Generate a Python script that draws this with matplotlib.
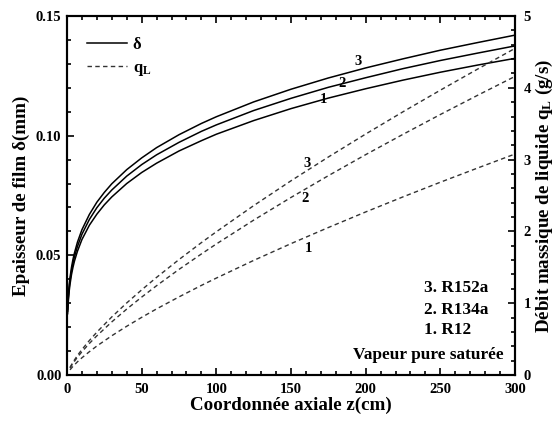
import matplotlib
matplotlib.use("Agg")
import matplotlib.pyplot as plt
from matplotlib.lines import Line2D
from matplotlib.ticker import MultipleLocator

plt.rcParams['font.family'] = ['Liberation Serif', 'DejaVu Serif']
plt.rcParams['font.weight'] = 'bold'
plt.rcParams['mathtext.fontset'] = 'custom'
plt.rcParams['mathtext.rm'] = 'Liberation Serif:bold'
plt.rcParams['mathtext.it'] = 'Liberation Serif:bold'
plt.rcParams['mathtext.bf'] = 'Liberation Serif:bold'

# film thickness delta (mm) vs axial coordinate z (cm)
z_delta = [0.4, 0.5, 1, 1.5, 2, 3, 4, 5, 7, 10, 15, 20, 25, 30, 40, 50, 60, 75, 90, 100,
           125, 150, 175, 200, 225, 250, 275, 300]
delta_R152a = [0.0271, 0.0287, 0.0341, 0.0378, 0.0406, 0.0449, 0.0483, 0.0510, 0.0555, 0.0607,
               0.0671, 0.0722, 0.0763, 0.0799, 0.0858, 0.0907, 0.0950, 0.1004, 0.1051, 0.1079,
               0.1141, 0.1194, 0.1241, 0.1283, 0.1321, 0.1357, 0.1389, 0.1420]
delta_R134a = [0.0263, 0.0278, 0.0330, 0.0366, 0.0393, 0.0435, 0.0467, 0.0494, 0.0537, 0.0588,
               0.0650, 0.0699, 0.0739, 0.0773, 0.0831, 0.0879, 0.0920, 0.0972, 0.1018, 0.1045,
               0.1105, 0.1156, 0.1202, 0.1242, 0.1280, 0.1314, 0.1345, 0.1375]
delta_R12 = [0.0253, 0.0267, 0.0318, 0.0352, 0.0378, 0.0419, 0.0450, 0.0476, 0.0517, 0.0566,
             0.0626, 0.0672, 0.0711, 0.0744, 0.0800, 0.0846, 0.0885, 0.0936, 0.0979, 0.1006,
             0.1063, 0.1113, 0.1157, 0.1196, 0.1232, 0.1265, 0.1295, 0.1323]

# liquid mass flow q_L (g/s) vs z (cm)
z_q = [2, 4, 7, 10, 15, 20, 30, 40, 50, 60, 75, 90, 100, 125, 150, 175, 200, 225, 250, 275, 300]
q_R152a = [0.106, 0.178, 0.272, 0.355, 0.481, 0.597, 0.809, 1.004, 1.186, 1.360, 1.608, 1.844,
           1.995, 2.359, 2.705, 3.036, 3.356, 3.666, 3.967, 4.261, 4.549]
q_R134a = [0.097, 0.163, 0.248, 0.324, 0.440, 0.546, 0.740, 0.918, 1.085, 1.244, 1.471, 1.686,
           1.825, 2.157, 2.473, 2.776, 3.069, 3.352, 3.628, 3.896, 4.159]
q_R12 = [0.072, 0.121, 0.184, 0.240, 0.325, 0.404, 0.547, 0.679, 0.803, 0.921, 1.088, 1.248,
         1.350, 1.596, 1.830, 2.054, 2.271, 2.481, 2.685, 2.883, 3.078]

x_ticks = [0, 50, 100, 150, 200, 250, 300]
y_ticks = [0.00, 0.05, 0.10, 0.15]
y2_ticks = [0, 1, 2, 3, 4, 5]

fig = plt.figure(figsize=(5.55, 4.25), dpi=100)
ax = fig.add_axes([0.1207, 0.1176, 0.8073, 0.8448])
ax2 = ax.twinx()

lw = 1.1
dash = (0, (3.2, 2.4))
for d in (delta_R152a, delta_R134a, delta_R12):
    ax.plot(z_delta, d, color='black', lw=lw, solid_capstyle='butt')
for q in (q_R152a, q_R134a, q_R12):
    ax2.plot(z_q, q, color='#333333', lw=1.0, linestyle=dash)

ax.set_xlim(0, 300)
ax.set_ylim(0, 0.15)
ax2.set_ylim(0, 5)
ax.set_xticks(x_ticks)
ax.set_yticks(y_ticks)
ax.set_yticklabels(['%.2f' % v for v in y_ticks])
ax2.set_yticks(y2_ticks)
ax.xaxis.set_minor_locator(MultipleLocator(10))
ax.yaxis.set_minor_locator(MultipleLocator(0.01))
ax2.yaxis.set_minor_locator(MultipleLocator(0.2))

for a in (ax, ax2):
    for s in a.spines.values():
        s.set_linewidth(1.5)
ax.tick_params(which='both', direction='in', top=True, right=False, width=1.2, labelsize=10.5)
ax.tick_params(axis='x', pad=6)
ax.tick_params(axis='y', pad=4)
ax.tick_params(which='major', length=5)
ax.tick_params(which='minor', length=3)
ax2.tick_params(which='both', direction='in', width=1.2, labelsize=10.5, pad=6)
ax2.tick_params(which='major', length=5)
ax2.tick_params(which='minor', length=3)

ax.set_xlabel('Coordonnée axiale z(cm)', fontsize=13.7, fontweight='bold', labelpad=0)
ax.set_ylabel('Epaisseur de film δ(mm)', fontsize=13.7, fontweight='bold', labelpad=4)
ax2.set_ylabel(r'Débit massique de liquide $\mathrm{q_L}$ (g/s)', fontsize=13.7, fontweight='bold', labelpad=2)

# curve labels
lab_fs = 10.5
ax.text(194.9, 0.1308, '3', fontsize=lab_fs, ha='center', va='center')
ax.text(184.2, 0.1220, '2', fontsize=lab_fs, ha='center', va='center')
ax.text(171.6, 0.1149, '1', fontsize=lab_fs, ha='center', va='center')
ax.text(160.5, 0.0885, '3', fontsize=lab_fs, ha='center', va='center')
ax.text(159.4, 0.0738, '2', fontsize=lab_fs, ha='center', va='center')
ax.text(161.6, 0.0529, '1', fontsize=lab_fs, ha='center', va='center')

blk_fs = 12.4
ax.text(239.1, 0.0362, '3. R152a', fontsize=blk_fs, ha='left', va='center')
ax.text(239.1, 0.0272, '2. R134a', fontsize=blk_fs, ha='left', va='center')
ax.text(239.1, 0.0188, '1. R12', fontsize=blk_fs, ha='left', va='center')
ax.text(292.2, 0.0084, 'Vapeur pure saturée', fontsize=blk_fs, ha='right', va='center')

handles = [Line2D([], [], color='black', lw=lw),
           Line2D([], [], color='#333333', lw=1.0, linestyle=dash)]
ax.legend(handles, ['δ', r'$\mathrm{q_L}$'], loc='upper left', bbox_to_anchor=(0.022, 0.97),
          frameon=False, fontsize=12, handlelength=2.4, handletextpad=0.35, labelspacing=0.45,
          borderaxespad=0.2)

fig.savefig('out.png', dpi=100)
